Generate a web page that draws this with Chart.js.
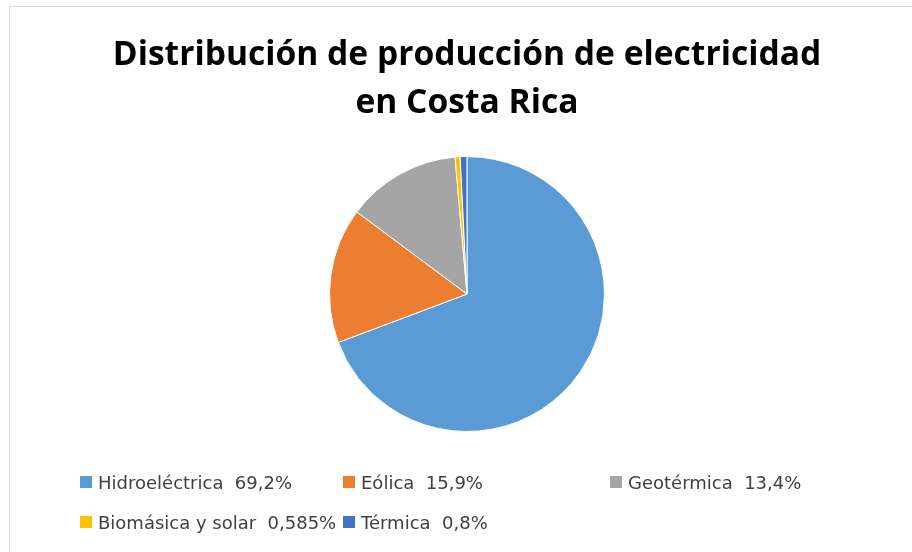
<!DOCTYPE html>
<html>
<head>
<meta charset="utf-8">
<script src="https://cdn.jsdelivr.net/npm/chart.js@4"></script>
<style>
    body { margin: 0; background: #fff; }
    #frame {
        position: absolute; left: 9px; top: 6px; width: 903px; height: 546px;
        border-left: 1px solid #d9d9d9; border-top: 1px solid #d9d9d9;
    }
    #pie-chart { position: absolute; left: 0; top: 0; }
    #legend {
        position: absolute; left: 80px; top: 472px;
        display: grid; grid-template-columns: 263px 267px auto; row-gap: 20px;
        font-family: "DejaVu Sans", sans-serif; font-size: 18px; color: #404040;
    }
    .item { display: flex; align-items: center; white-space: pre; height: 20px; }
    .box { width: 12px; height: 12px; margin-right: 6px; }
</style>
</head>
<body>
<div id="frame"></div>
<canvas id="pie-chart" width="912" height="552"></canvas>
<div id="legend"></div>
<script>
const titleLines = ['Distribución de producción de electricidad', 'en Costa Rica']
const categories = ['Hidroeléctrica', 'Eólica', 'Geotérmica', 'Biomásica y solar', 'Térmica']
const values = [69.2, 15.9, 13.4, 0.585, 0.8]
const valueLabels = ['69,2%', '15,9%', '13,4%', '0,585%', '0,8%']
const colors = ['#5b9bd5', '#ed7d31', '#a5a5a5', '#ffc000', '#4472c4']

const pieContext = document.getElementById('pie-chart').getContext('2d')

const chart = new Chart(pieContext, {
    type: 'pie',
    data: {
        labels: categories,
        datasets: [{
            data: values,
            backgroundColor: colors,
            borderColor: '#ffffff',
            borderWidth: 1
        }]
    },
    options: {
        responsive: false,
        animation: false,
        events: [],
        layout: {
            padding: { left: 22, right: 0, top: 0, bottom: 120 }
        },
        plugins: {
            legend: { display: false },
            tooltip: { enabled: false },
            title: {
                display: true,
                text: titleLines,
                color: '#000000',
                font: { family: 'Open Sans', size: 33.6, weight: 'bold', lineHeight: 1.43 },
                padding: { top: 31, bottom: 29 }
            }
        }
    }
})

// html legend laid out in columns like the original
const legendBox = document.getElementById('legend')
chart.data.labels.forEach((label, i) => {
    const item = document.createElement('div')
    item.className = 'item'
    const box = document.createElement('span')
    box.className = 'box'
    box.style.background = colors[i]
    const text = document.createElement('span')
    text.textContent = label + '  ' + valueLabels[i]
    item.appendChild(box)
    item.appendChild(text)
    legendBox.appendChild(item)
})
</script>
</body>
</html>
